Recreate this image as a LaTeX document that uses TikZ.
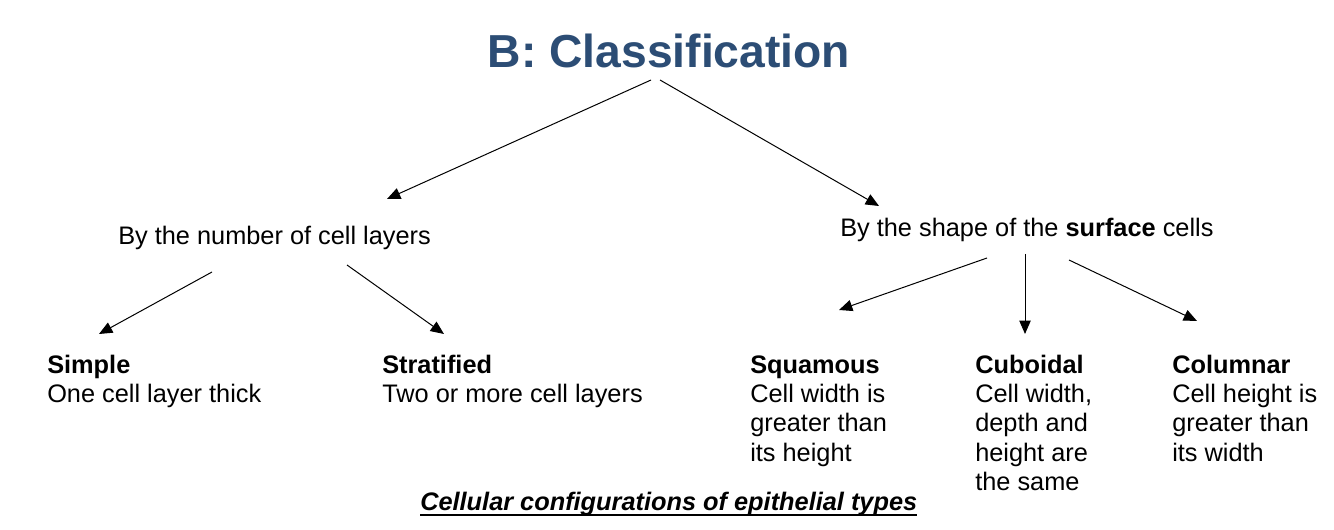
\documentclass[tikz,border=0pt]{standalone}
\usepackage{fontspec}
\setmainfont{Liberation Sans}
\usetikzlibrary{arrows.meta}
\definecolor{titleblue}{RGB}{44,77,117}
\begin{document}
\begin{tikzpicture}[x=0.75pt,y=-0.75pt,
  body/.style={font=\fontsize{19}{22.1}\selectfont, inner sep=0pt, anchor=base west, align=left},
  heading/.style={font=\bfseries\fontsize{34.7}{40}\selectfont, text=titleblue, inner sep=0pt, anchor=base},
  arr/.style={-{Triangle[length=10pt,width=8.5pt]}, line width=0.75pt, black}]
\useasboundingbox[fill=white] (0,0) rectangle (1334,530);

\node[heading] (title) at (669,68) {B: Classification};

\node[body] (layers) at (118,245) {By the number of cell layers};
\node[body] (shape) at (840,237) {By the shape of the \textbf{surface} cells};

% base anchor = baseline of the last line (first line baseline at y=373, step 29.47)
\node[body] (simple) at (47,402.5) {\textbf{Simple}\\One cell layer thick};
\node[body] (strat) at (382,402.5) {\textbf{Stratified}\\Two or more cell layers};
\node[body] (squam) at (750,461.4) {\textbf{Squamous}\\Cell width is\\greater than\\its height};
\node[body] (cubo) at (975,490.9) {\textbf{Cuboidal}\\Cell width,\\depth and\\height are\\the same};
\node[body] (colu) at (1172,461.4) {\textbf{Columnar}\\Cell height is\\greater than\\its width};

\node[body] (caption) at (420,510) {\bfseries\itshape Cellular configurations of epithelial types};
\draw[line width=1.4pt] ([yshift=-3.6pt]caption.base west) -- ([yshift=-3.6pt]caption.base east);

\coordinate (t1) at (651,80);  \coordinate (e1) at (387,199);
\coordinate (t2) at (660,80);  \coordinate (e2) at (879,206);
\coordinate (l1) at (212,272); \coordinate (e3) at (99,334);
\coordinate (l2) at (347,265); \coordinate (e4) at (444,334);
\coordinate (s1) at (987,258); \coordinate (e5) at (839,310);
\coordinate (s2) at (1025,254); \coordinate (e6) at (1025,334);
\coordinate (s3) at (1069,260); \coordinate (e7) at (1197,321);

\draw[arr] (t1) -- (e1);
\draw[arr] (t2) -- (e2);
\draw[arr] (l1) -- (e3);
\draw[arr] (l2) -- (e4);
\draw[arr] (s1) -- (e5);
\draw[arr] (s2) -- (e6);
\draw[arr] (s3) -- (e7);
\end{tikzpicture}
\end{document}
